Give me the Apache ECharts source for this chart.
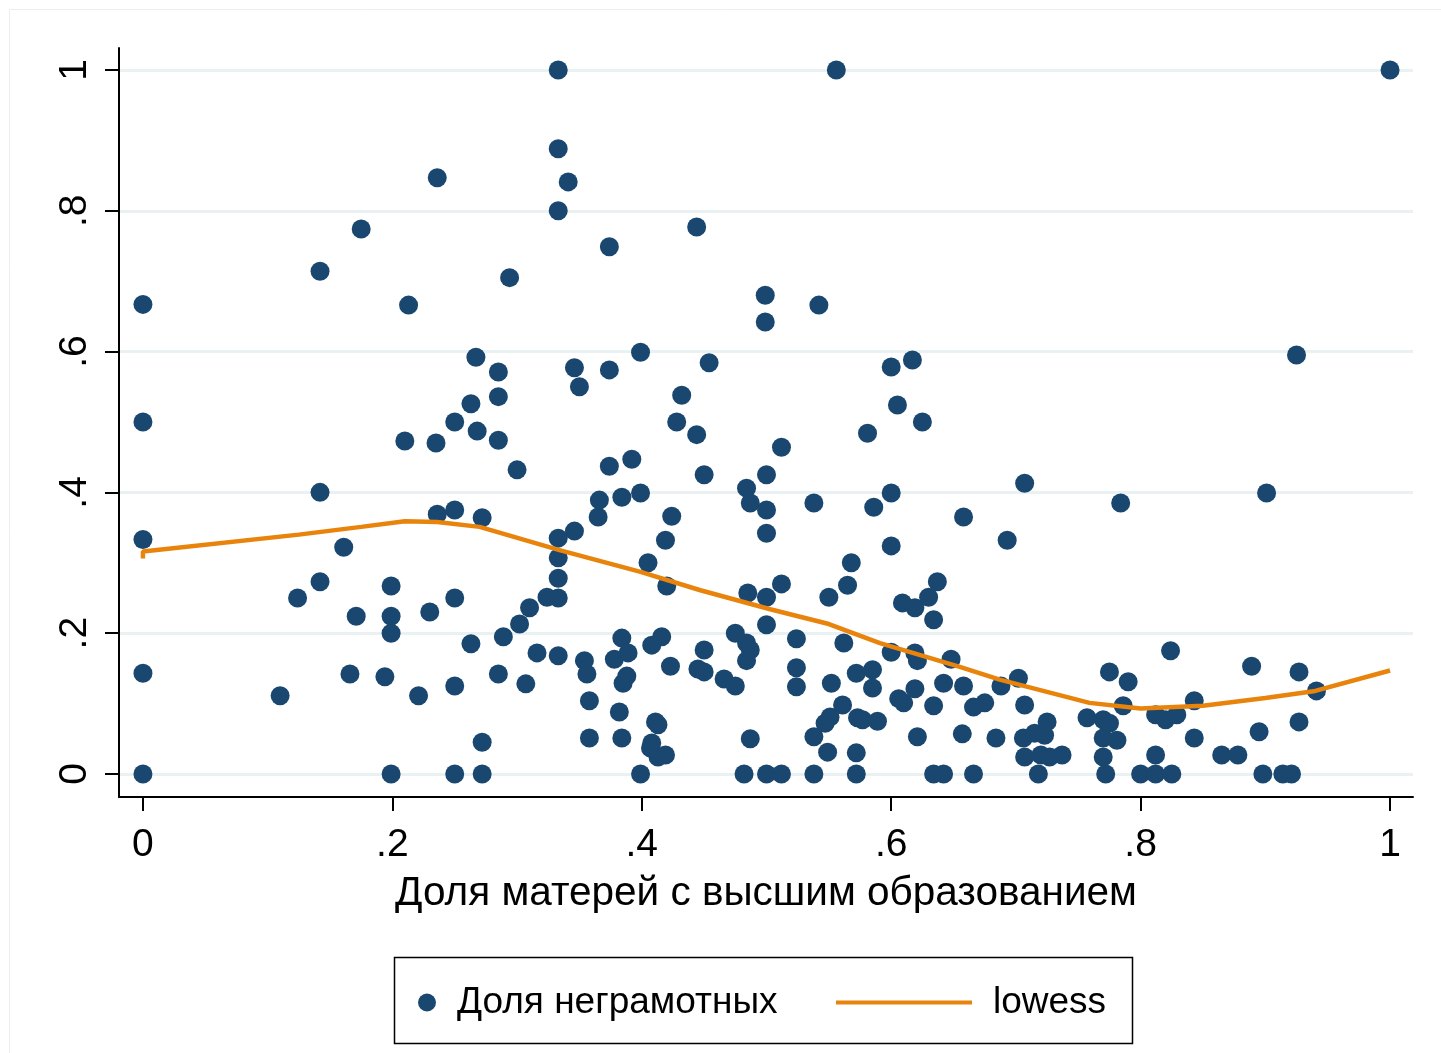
<!DOCTYPE html>
<html>
<head>
<meta charset="utf-8">
<script src="https://cdn.jsdelivr.net/npm/echarts@6/dist/echarts.min.js"></script>
<style>
  html, body { margin: 0; padding: 0; background: #ffffff; }
  #chart { width: 1441px; height: 1053px; }
</style>
</head>
<body>
<div id="chart"></div>
<script>
// Share of mothers with higher education (x)
const motherEduShare = [
  0, 0, 0, 0, 0, 0.110, 0.124, 0.142, 0.142, 0.142,
  0.161, 0.166, 0.171, 0.175, 0.194, 0.199, 0.199, 0.199, 0.199, 0.21,
  0.213, 0.221, 0.23, 0.235, 0.236, 0.236, 0.25, 0.25, 0.25, 0.25,
  0.25, 0.263, 0.263, 0.267, 0.268, 0.272, 0.272, 0.272, 0.285, 0.285,
  0.285, 0.285, 0.289, 0.294, 0.3, 0.302, 0.307, 0.31, 0.316, 0.324,
  0.333, 0.333, 0.333, 0.333, 0.333, 0.333, 0.333, 0.333, 0.341, 0.346,
  0.346, 0.35, 0.354, 0.356, 0.358, 0.358, 0.365, 0.366, 0.374, 0.374,
  0.374, 0.378, 0.382, 0.384, 0.384, 0.384, 0.385, 0.388, 0.389, 0.392,
  0.399, 0.399, 0.399, 0.405, 0.407, 0.408, 0.408, 0.411, 0.413, 0.413,
  0.416, 0.419, 0.419, 0.42, 0.423, 0.424, 0.428, 0.432, 0.444, 0.444,
  0.445, 0.45, 0.45, 0.45, 0.454, 0.466, 0.475, 0.475, 0.482, 0.484,
  0.484, 0.484, 0.485, 0.487, 0.487, 0.487, 0.499, 0.499, 0.5, 0.5,
  0.5, 0.5, 0.5, 0.5, 0.512, 0.512, 0.512, 0.524, 0.524, 0.524,
  0.538, 0.538, 0.538, 0.542, 0.547, 0.549, 0.55, 0.551, 0.552, 0.556,
  0.561, 0.562, 0.565, 0.568, 0.572, 0.572, 0.572, 0.573, 0.577, 0.581,
  0.585, 0.585, 0.586, 0.589, 0.6, 0.6, 0.6, 0.6, 0.605, 0.606,
  0.609, 0.61, 0.617, 0.619, 0.619, 0.619, 0.621, 0.621, 0.625, 0.63,
  0.634, 0.634, 0.634, 0.637, 0.642, 0.642, 0.648, 0.657, 0.658, 0.658,
  0.666, 0.666, 0.675, 0.684, 0.688, 0.693, 0.702, 0.706, 0.707, 0.707,
  0.707, 0.715, 0.718, 0.72, 0.723, 0.725, 0.727, 0.737, 0.757, 0.77,
  0.77, 0.77, 0.772, 0.775, 0.775, 0.781, 0.784, 0.786, 0.79, 0.8,
  0.812, 0.812, 0.812, 0.82, 0.824, 0.825, 0.829, 0.843, 0.843, 0.865,
  0.878, 0.889, 0.895, 0.898, 0.901, 0.914, 0.921, 0.925, 0.927, 0.927,
  0.941, 1
];
// Share of illiterate (y)
const illiterateShare = [
  0.667, 0.5, 0.333, 0.143, 0, 0.111, 0.25, 0.714, 0.4, 0.273,
  0.322, 0.142, 0.224, 0.774, 0.138, 0.267, 0.224, 0.2, 0, 0.473,
  0.666, 0.111, 0.23, 0.47, 0.847, 0.369, 0.5, 0.375, 0.25, 0.125,
  0, 0.526, 0.185, 0.592, 0.487, 0.364, 0.045, 0, 0.571, 0.536,
  0.474, 0.142, 0.195, 0.705, 0.432, 0.213, 0.128, 0.236, 0.172, 0.251,
  1, 0.888, 0.8, 0.335, 0.307, 0.278, 0.25, 0.168, 0.841, 0.577,
  0.345, 0.55, 0.161, 0.142, 0.104, 0.051, 0.365, 0.389, 0.749, 0.574,
  0.437, 0.163, 0.088, 0.393, 0.193, 0.051, 0.129, 0.139, 0.172, 0.447,
  0.599, 0.399, 0, 0.3, 0.037, 0.044, 0.183, 0.074, 0.07, 0.024,
  0.195, 0.027, 0.332, 0.267, 0.153, 0.366, 0.5, 0.538, 0.482, 0.777,
  0.149, 0.425, 0.176, 0.145, 0.584, 0.135, 0.2, 0.125, 0, 0.406,
  0.186, 0.161, 0.257, 0.385, 0.176, 0.05, 0.68, 0.642, 0.425, 0.375,
  0.342, 0.251, 0.212, 0, 0.464, 0.27, 0, 0.192, 0.151, 0.124,
  0.385, 0.053, 0, 0.666, 0.072, 0.031, 0.251, 0.081, 0.129, 1,
  0.098, 0.186, 0.268, 0.3, 0.143, 0.03, 0, 0.08, 0.077, 0.484,
  0.148, 0.122, 0.379, 0.075, 0.578, 0.399, 0.324, 0.173, 0.524, 0.107,
  0.243, 0.101, 0.588, 0.236, 0.172, 0.121, 0.161, 0.053, 0.5, 0.251,
  0, 0.219, 0.097, 0.273, 0.129, 0, 0.163, 0.057, 0.365, 0.125,
  0.095, 0, 0.101, 0.051, 0.125, 0.332, 0.136, 0.051, 0.413, 0.098,
  0.024, 0.058, 0, 0.027, 0.055, 0.074, 0.024, 0.027, 0.08, 0.077,
  0.051, 0.024, 0, 0.145, 0.072, 0.048, 0.385, 0.097, 0.131, 0,
  0.084, 0.027, 0, 0.077, 0.175, 0, 0.084, 0.104, 0.051, 0.027,
  0.027, 0.153, 0.06, 0, 0.399, 0, 0, 0.595, 0.145, 0.074,
  0.118, 1
];
// Lowess smoother
const lowessX = [0, 0, 0.125, 0.175, 0.21, 0.236, 0.27, 0.334, 0.399, 0.447, 0.503, 0.55, 0.591, 0.655, 0.687, 0.759, 0.8, 0.85, 0.9, 0.94, 1];
const lowessY = [0.306, 0.316, 0.34, 0.351, 0.359, 0.358, 0.351, 0.318, 0.287, 0.261, 0.234, 0.213, 0.186, 0.152, 0.134, 0.101, 0.093, 0.097, 0.108, 0.118, 0.147];
// Ticks
const xTicks = [0, 0.2, 0.4, 0.6, 0.8, 1];
const yTicks = [0, 0.2, 0.4, 0.6, 0.8, 1];
const xTitle = 'Доля матерей с высшим образованием';
const scatterName = 'Доля неграмотных';
const lineName = 'lowess';

const FONT = '"Liberation Sans", Arial, Helvetica, sans-serif';
const NAVY = '#1a476f';
const ORANGE = '#e8830b';

function tickFmt(v) {
  if (Math.abs(v) < 1e-9) return '0';
  if (Math.abs(v - 1) < 1e-9) return '1';
  return String(Math.round(v * 10) / 10).replace(/^0\./, '.');
}

const scatterData = motherEduShare.map((x, i) => [x, illiterateShare[i]]);
const lowessData = lowessX.map((x, i) => [x, lowessY[i]]);

const chart = echarts.init(document.getElementById('chart'), null, { renderer: 'canvas' });
chart.setOption({
  backgroundColor: '#ffffff',
  animation: false,
  textStyle: { fontFamily: FONT },
  grid: { left: 119, right: 28, top: 48, bottom: 256, containLabel: false },
  xAxis: {
    type: 'value',
    min: -0.0192,
    max: 1.0184,
    name: xTitle,
    nameLocation: 'middle',
    nameGap: 76,
    nameTextStyle: { fontSize: 40.5, color: '#000', fontFamily: FONT },
    axisLine: { show: true, onZero: false, lineStyle: { color: '#000', width: 2 } },
    axisTick: { show: true, inside: false, length: 14, customValues: xTicks, lineStyle: { color: '#000', width: 2 } },
    axisLabel: { show: true, customValues: xTicks, formatter: tickFmt, fontSize: 39, color: '#000', margin: 29, fontFamily: FONT },
    splitLine: { show: false }
  },
  yAxis: {
    type: 'value',
    min: -0.0327,
    max: 1.0312,
    axisLine: { show: true, onZero: false, lineStyle: { color: '#000', width: 2 } },
    axisTick: { show: true, inside: false, length: 14, customValues: yTicks, lineStyle: { color: '#000', width: 2 } },
    axisLabel: { show: true, customValues: yTicks, formatter: tickFmt, fontSize: 39, color: '#000', margin: 24, rotate: 90, fontFamily: FONT },
    splitLine: { show: true, lineStyle: { color: '#eaf1f3', width: 3 } }
  },
  legend: [
    {
      data: [{ name: scatterName, icon: 'circle' }],
      left: 418, top: 984,
      padding: 0,
      itemWidth: 18, itemHeight: 18,
      textStyle: { fontSize: 37, color: '#000', fontFamily: FONT, padding: [0, 0, 0, 16] },
      selectedMode: false
    },
    {
      data: [{ name: lineName, icon: 'path://M0,0H136V4H0Z' }],
      left: 836, top: 984,
      padding: 0,
      itemWidth: 136, itemHeight: 18,
      symbolKeepAspect: true,
      itemStyle: { color: ORANGE, borderWidth: 0 },
      textStyle: { fontSize: 37, color: '#000', fontFamily: FONT, padding: [0, 0, 0, 16] },
      selectedMode: false
    }
  ],
  graphic: [
    {
      type: 'rect',
      shape: { x: 394.5, y: 957.5, width: 738, height: 86 },
      style: { fill: 'none', stroke: '#000', lineWidth: 1.5 },
      silent: true
    },
    {
      type: 'rect',
      shape: { x: 9.5, y: 9.5, width: 1440, height: 1050 },
      style: { fill: 'none', stroke: '#eceff1', lineWidth: 1 },
      silent: true,
      z: -1
    }
  ],
  series: [
    {
      name: scatterName,
      type: 'scatter',
      data: scatterData,
      symbol: 'circle',
      symbolSize: 19,
      itemStyle: { color: NAVY, opacity: 1 },
      z: 2
    },
    {
      name: lineName,
      type: 'line',
      data: lowessData,
      symbol: 'none',
      showSymbol: false,
      smooth: false,
      lineStyle: { color: ORANGE, width: 4.5 },
      itemStyle: { color: ORANGE },
      z: 3
    }
  ]
});
</script>
</body>
</html>
